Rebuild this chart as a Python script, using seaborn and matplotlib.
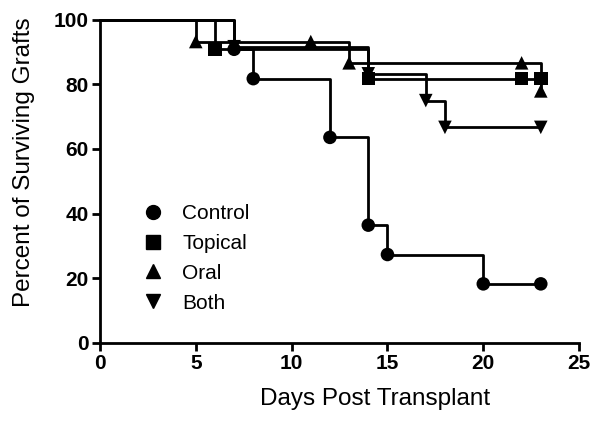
import pandas as pd
import numpy as np

import seaborn as sns
import matplotlib.pyplot as plt
from matplotlib.lines import Line2D

sns.set_style("ticks")
plt.rcParams["font.family"] = ["Liberation Sans", "DejaVu Sans"]
plt.rcParams.update({"text.color": "black", "axes.labelcolor": "black",
                     "xtick.color": "black", "ytick.color": "black"})

DPI = 100
FIGSIZE = (6.02, 4.24)

# Kaplan-Meier steps (day, percent surviving)
groups = ["Control", "Topical", "Oral", "Both"]
control_days = [0, 7, 8, 12, 14, 15, 20, 23]
control_pct = [100, 90.9, 81.8, 63.6, 36.4, 27.3, 18.2, 18.2]
topical_days = [0, 6, 14, 22, 23]
topical_pct = [100, 90.9, 81.8, 81.8, 81.8]
oral_days = [0, 5, 11, 13, 22, 23]
oral_pct = [100, 93.3, 93.3, 86.7, 86.7, 78.0]
both_days = [0, 7, 14, 17, 18, 23]
both_pct = [100, 91.7, 83.3, 75.0, 66.7, 66.7]

x_ticks = [0, 5, 10, 15, 20, 25]
y_ticks = [0, 20, 40, 60, 80, 100]
markers = {"Control": "o", "Topical": "s", "Oral": "^", "Both": "v"}

frames = []
for g, d, p in zip(groups,
                   [control_days, topical_days, oral_days, both_days],
                   [control_pct, topical_pct, oral_pct, both_pct]):
    frames.append(pd.DataFrame({"day": d, "pct": p, "group": g}))
df = pd.concat(frames, ignore_index=True)

fig, ax = plt.subplots(figsize=FIGSIZE, dpi=DPI)
fig.subplots_adjust(left=0.166, right=0.962, bottom=0.192, top=0.953)

sns.lineplot(data=df, x="day", y="pct", hue="group", units="group",
             estimator=None, sort=False, drawstyle="steps-post",
             palette={g: "black" for g in groups}, linewidth=2.0,
             legend=False, ax=ax, clip_on=False)

marks = df[df["day"] > 0]
sns.scatterplot(data=marks, x="day", y="pct", style="group", markers=markers,
                color="black", s=95, edgecolor="black", linewidth=0,
                legend=False, ax=ax, zorder=3, clip_on=False)

ax.set_xlim(0, 25)
ax.set_ylim(0, 100)
ax.set_xticks(x_ticks)
ax.set_yticks(y_ticks)
sns.despine(ax=ax)
for s in ["left", "bottom"]:
    ax.spines[s].set_linewidth(2.0)
    ax.spines[s].set_color("black")
ax.tick_params(width=2.0, length=6, color="black", labelcolor="black",
               labelsize=15, pad=2)
for lab in ax.get_xticklabels() + ax.get_yticklabels():
    lab.set_fontweight("bold")

ax.set_xlabel("Days Post Transplant", fontsize=17.5, color="black")
ax.set_ylabel("Percent of Surviving Grafts", fontsize=17.5, color="black")
ax.xaxis.set_label_coords(0.574, -0.14)
ax.yaxis.set_label_coords(-0.136, 0.56)

handles = [Line2D([], [], linestyle="none", marker=markers[g], color="black",
                  markersize=10) for g in groups]
leg = ax.legend(handles, groups, loc="upper left", bbox_to_anchor=(0.05, 0.455),
                frameon=False, fontsize=15, labelspacing=0.52,
                handletextpad=0.4, borderaxespad=0)
for t in leg.get_texts():
    t.set_color("black")

fig.savefig("out.png", dpi=DPI)
